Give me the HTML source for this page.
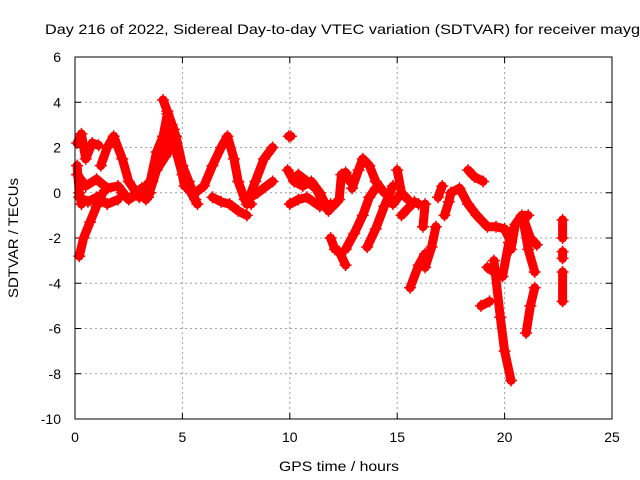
<!DOCTYPE html>
<html><head><meta charset="utf-8"><style>
html,body{margin:0;padding:0;background:#fff;overflow:hidden;}
svg{display:block;font-family:"Liberation Sans",sans-serif;}
</style></head><body>
<svg id="chart" width="640" height="480" viewBox="0 0 640 480">
<text x="45" y="34" font-size="14" textLength="604" lengthAdjust="spacingAndGlyphs">Day 216 of 2022, Sidereal Day-to-day VTEC variation (SDTVAR) for receiver maygo</text>
<text x="279" y="471" font-size="14" textLength="120" lengthAdjust="spacingAndGlyphs">GPS time / hours</text>
<text x="18" y="238" font-size="14" text-anchor="middle" textLength="120" lengthAdjust="spacingAndGlyphs" transform="rotate(-90 18 238)">SDTVAR / TECUs</text>
<g id="grid"></g><g id="marks"></g>
<rect x="75" y="57" width="537" height="362" fill="none" stroke="#000" stroke-width="1"/>
</svg>
<script>
const xTicks=[0,5,10,15,20,25];
const yTicks=[6,4,2,0,-2,-4,-6,-8,-10];
const tracks=[
[[0.2,-2.8],[0.4,-2],[0.7,-1.3],[1.0,-0.6],[1.3,0]],
[[0.1,2.2],[0.3,2.6],[0.5,1.5],[0.8,2.2],[1.1,2.1]],
[[0.1,1.2],[0.2,0],[0.3,-0.5]],
[[0.1,0.8],[0.5,0.3],[1,0.6],[1.5,0.2],[2,0.3],[2.5,-0.3],[3,0]],
[[0.2,-0.2],[0.6,-0.4],[1,-0.2],[1.5,-0.5],[2,-0.3]],
[[1.2,1.2],[1.5,2],[1.8,2.5],[2.2,1.5],[2.5,0.5],[3,-0.2],[3.5,0]],
[[2.2,0],[2.5,-0.3],[3.1,0.2],[3.3,-0.3]],
[[3,0],[3.5,0.5],[3.8,1.8],[4.1,2.5],[4.3,3.5],[4.5,3],[4.7,2.5],[5,1.2],[5.3,0.5],[5.6,-0.3]],
[[3.4,-0.2],[3.8,1],[4.2,1.6],[4.6,2.2],[5,0.8],[5.4,0],[5.7,-0.5]],
[[3.6,0.5],[4,2],[4.4,2.6],[4.8,1.8],[5.1,0.3]],
[[4.1,4.1],[4.3,3.6],[4.6,2.8]],
[[5.6,0],[6,0.3],[6.4,1.2],[6.8,2],[7.1,2.5],[7.4,1.5],[7.6,0.5],[7.9,-0.3],[8.2,-0.5]],
[[6.4,-0.2],[6.8,-0.4],[7.2,-0.5],[7.6,-0.8],[8,-1]],
[[8,-0.5],[8.4,0.5],[8.8,1.5],[9.2,2]],
[[8,-0.3],[8.5,0],[9.2,0.5]],
[[9.95,2.5],[10.05,2.5]],
[[9.9,1],[10.2,0.5],[10.6,0.3],[11,0.5],[11.4,0],[11.8,-0.8]],
[[10,-0.5],[10.4,-0.3],[10.8,-0.2],[11.4,-0.6],[11.9,-0.5]],
[[10.4,0.8],[10.8,0.5],[11.2,0.2],[11.5,-0.3]],
[[11.9,-2],[12.1,-2.5]],
[[12.0,-0.6],[12.3,-0.3],[12.4,0.8],[12.6,0.9],[12.8,0.5]],
[[12.3,-2.6],[12.6,-3.2]],
[[12.6,-2.5],[13,-1.8],[13.4,-1],[13.7,-0.2],[14,0.2]],
[[12.9,0.2],[13.2,1],[13.4,1.5],[13.7,1.2],[14,0.5],[14.4,0]],
[[13.6,-2.4],[14,-1.6],[14.4,-0.6],[14.8,0.3]],
[[14.8,-0.5],[15.2,0],[15.5,-0.3]],
[[15,1],[15.2,0]],
[[15.2,-1],[15.5,-0.7],[15.8,-0.4],[16,-0.5]],
[[15.6,-4.2],[16,-3.2],[16.3,-2.7]],
[[16.3,-3.3],[16.6,-2.4],[16.8,-1.5]],
[[16.2,-1.5],[16.3,-0.5]],
[[16.9,-0.2],[17.1,0.3]],
[[17.2,-1],[17.4,-0.4],[17.5,0]],
[[17.5,0],[17.9,0.2],[18.3,-0.5],[18.7,-1]],
[[18.3,1],[18.6,0.7],[19,0.5]],
[[18.7,-1],[19.2,-1.5],[19.6,-1.5],[20,-1.6],[20.3,-2.2]],
[[20.3,-2.5],[20.5,-1.4],[20.8,-1],[21.1,-1]],
[[20.9,-1.2],[21.2,-2],[21.5,-2.3]],
[[20.9,-1.4],[21.1,-2.5],[21.4,-3.5]],
[[18.9,-5],[19.3,-4.8]],
[[19.2,-3.3],[19.5,-3.5],[19.9,-3.7],[20.2,-2.2],[20.4,-1.6]],
[[19.5,-3],[19.8,-5.5],[20,-7],[20.3,-8.3]],
[[21.0,-6.2],[21.2,-5],[21.4,-4.2]],
[[22.7,-1.2],[22.7,-2]],
[[22.7,-2.6],[22.7,-2.9]],
[[22.7,-3.5],[22.7,-4.8]]
];
const NS='http://www.w3.org/2000/svg';
const X0=75,X1=612,Y0=419,Y1=57;
function sx(v){return X0+(v-0)/(25-0)*(X1-X0);}
function sy(v){return Y0-(v+10)/16*(Y0-Y1);}
const grid=document.getElementById('grid');
function mk(tag,attrs,parent){const e=document.createElementNS(NS,tag);for(const k in attrs)e.setAttribute(k,attrs[k]);parent.appendChild(e);return e;}
xTicks.forEach(t=>{
 const x=sx(t);
 if(t>0&&t<25){const g=mk('line',{x1:x,x2:x,y1:Y1,y2:Y0,stroke:'#a0a0a0','stroke-dasharray':'2,3'},grid);
 
 }
 const a=mk('line',{x1:x,x2:x,y1:Y0,y2:Y0-6,stroke:'#000'},grid);
 
 
 const b=mk('line',{x1:x,x2:x,y1:Y1,y2:Y1+6,stroke:'#000'},grid);
 
 
 const l=mk('text',{x:x,y:442,'font-size':14,'text-anchor':'middle'},grid);
 l.textContent=t;
 
 
});
yTicks.forEach(t=>{
 const y=sy(t);
 if(t>-10&&t<6){const g=mk('line',{x1:X0,x2:X1,y1:y,y2:y,stroke:'#a0a0a0','stroke-dasharray':'2,3'},grid);
 
 }
 const a=mk('line',{x1:X0,x2:X0+6,y1:y,y2:y,stroke:'#000'},grid);
 
 
 const b=mk('line',{x1:X1,x2:X1-6,y1:y,y2:y,stroke:'#000'},grid);
 
 
 const l=mk('text',{x:61,y:y+5,'font-size':14,'text-anchor':'end'},grid);
 l.textContent=t;
 
 
});
const marks=document.getElementById('marks');
tracks.forEach(tr=>{
 const pts=tr.map(p=>sx(p[0]).toFixed(1)+','+sy(p[1]).toFixed(1)).join(' ');
 const pl=mk('polyline',{points:pts,fill:'none',stroke:'#ff0000','stroke-width':9,'stroke-linejoin':'round','stroke-linecap':'round'},marks);
 
 
 tr.forEach(p=>{
  const x=sx(p[0]),y=sy(p[1]);
  const c=mk('path',{d:`M${x-6},${y}H${x+6}M${x},${y-6}V${y+6}`,stroke:'#ff0000','stroke-width':1.5},marks);
  
  
 });
});
</script>
</body></html>
